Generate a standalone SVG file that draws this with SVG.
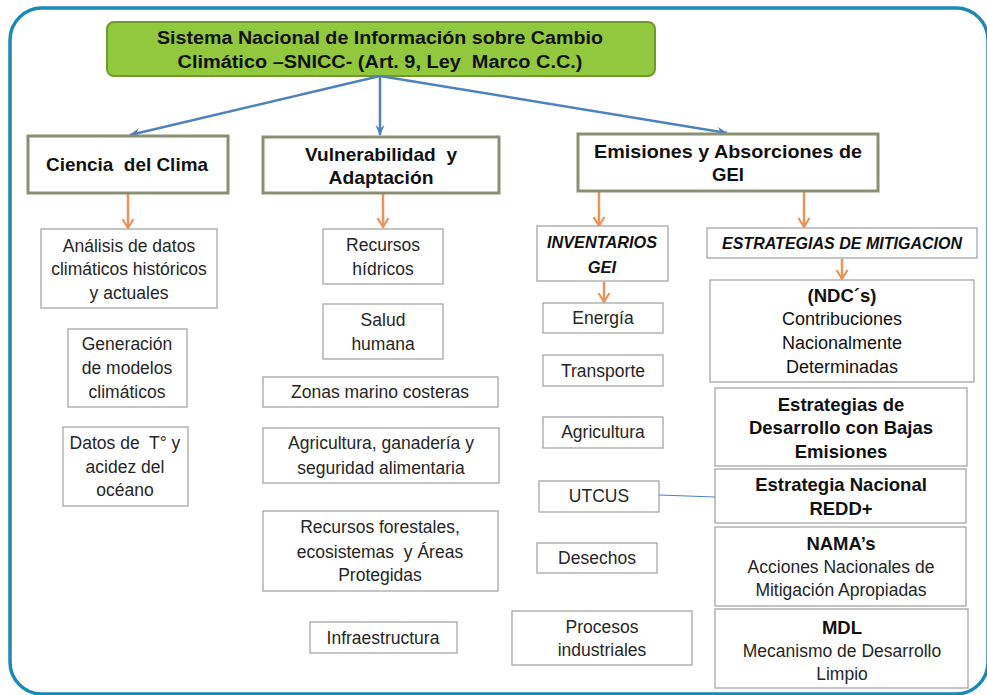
<svg xmlns="http://www.w3.org/2000/svg" width="987" height="695" viewBox="0 0 987 695">
<style>
text{font-family:"Liberation Sans",Arial,sans-serif;fill:#1a1a1a;text-anchor:middle}
.h{font-weight:bold;font-size:17.5px;fill:#111}
.r{font-size:17.5px;fill:#262626}
.a{font-size:18px;fill:#111}
.b{font-weight:bold;font-size:18.5px;fill:#111}
.bi{font-weight:bold;font-style:italic;font-size:16.5px;fill:#111}
.main{fill:#fff;stroke:#8b8f74;stroke-width:3}
.box{fill:#fff;stroke:#a6a6a6;stroke-width:1.3}
.blue{stroke:#4f81bd;stroke-width:2.5;fill:none}
.org{stroke:#e9935a;stroke-width:2.5;fill:none}
</style>
<defs>
<marker id="ab" markerWidth="12" markerHeight="10" refX="10" refY="5" orient="auto" markerUnits="userSpaceOnUse">
<path d="M0,0.5 L11,5 L0,9.5 L3.5,5 z" fill="#4f81bd"/>
</marker>
<marker id="ao" markerWidth="14" markerHeight="14" refX="11" refY="7" orient="auto" markerUnits="userSpaceOnUse">
<path d="M2,1.5 L11,7 L2,12.5" fill="none" stroke="#e9935a" stroke-width="2.2"/>
</marker>
</defs>
<rect x="10" y="8" width="978" height="686" rx="32" fill="#fff" stroke="#1a8ab4" stroke-width="3.5"/>

<g id="header">
<rect x="107" y="22" width="548" height="54" rx="7" fill="#92c83e" stroke="#6f9a2c" stroke-width="2"/>
<text x="380" y="44" class="h" textLength="446" lengthAdjust="spacingAndGlyphs">Sistema Nacional de Información sobre Cambio</text>
<text x="380" y="68" class="h" xml:space="preserve" textLength="405" lengthAdjust="spacingAndGlyphs">Climático –SNICC- (Art. 9, Ley  Marco C.C.)</text>
</g>

<g id="connectors">
<line x1="380" y1="76" x2="130" y2="135" class="blue" marker-end="url(#ab)"/>
<line x1="380" y1="76" x2="380" y2="135" class="blue" marker-end="url(#ab)"/>
<line x1="380" y1="76" x2="727" y2="133" class="blue" marker-end="url(#ab)"/>
<line x1="128" y1="194" x2="128" y2="228" class="org" marker-end="url(#ao)"/>
<line x1="383" y1="194" x2="383" y2="227" class="org" marker-end="url(#ao)"/>
<line x1="599" y1="192" x2="599" y2="226" class="org" marker-end="url(#ao)"/>
<line x1="804" y1="192" x2="804" y2="227" class="org" stroke-width="1.5" marker-end="url(#ao)"/>
<line x1="842" y1="259" x2="842" y2="279" class="org" marker-end="url(#ao)"/>
<line x1="604" y1="282" x2="604" y2="302" class="org" marker-end="url(#ao)"/>
<line x1="659" y1="495" x2="715" y2="497" stroke="#4f81bd" stroke-width="1.2"/>
</g>

<g id="ciencia">
<rect x="28" y="136" width="200" height="57" class="main"/>
<text x="127" y="171" class="b" xml:space="preserve" textLength="162" lengthAdjust="spacingAndGlyphs">Ciencia  del Clima</text>
</g>
<g id="vulnerabilidad">
<rect x="263" y="137" width="236" height="56" class="main"/>
<text x="381" y="161" class="b" xml:space="preserve" textLength="152" lengthAdjust="spacingAndGlyphs">Vulnerabilidad  y</text>
<text x="381" y="184" class="b" textLength="105" lengthAdjust="spacingAndGlyphs">Adaptación</text>
</g>
<g id="emisiones">
<rect x="578" y="134" width="300" height="57" class="main"/>
<text x="728" y="158" class="b" textLength="268" lengthAdjust="spacingAndGlyphs">Emisiones y Absorciones de</text>
<text x="728" y="181" class="b">GEI</text>
</g>

<g id="analisis">
<rect x="41" y="229" width="176" height="79" class="box"/>
<text x="129" y="252" class="r">Análisis de datos</text>
<text x="129" y="275" class="r">climáticos históricos</text>
<text x="129" y="299" class="r">y actuales</text>
</g>
<g id="generacion">
<rect x="68" y="329" width="119" height="78" class="box"/>
<text x="127" y="350" class="r">Generación</text>
<text x="127" y="374" class="r">de modelos</text>
<text x="127" y="398" class="r">climáticos</text>
</g>
<g id="datos">
<rect x="63" y="427" width="125" height="79" class="box"/>
<text x="125" y="449" class="r" xml:space="preserve">Datos de  T° y</text>
<text x="125" y="473" class="r">acidez del</text>
<text x="125" y="496" class="r">océano</text>
</g>

<g id="hidricos">
<rect x="323" y="229" width="120" height="55" class="box"/>
<text x="383" y="251" class="r">Recursos</text>
<text x="383" y="275" class="r">hídricos</text>
</g>
<g id="salud">
<rect x="323" y="304" width="120" height="55" class="box"/>
<text x="383" y="326" class="r">Salud</text>
<text x="383" y="350" class="r">humana</text>
</g>
<g id="zonas">
<rect x="263" y="377" width="235" height="30" class="box"/>
<text x="380" y="398" class="r">Zonas marino costeras</text>
</g>
<g id="agricultura-seg">
<rect x="263" y="428" width="236" height="55" class="box"/>
<text x="381" y="449" class="r">Agricultura, ganadería y</text>
<text x="381" y="474" class="r">seguridad alimentaria</text>
</g>
<g id="forestales">
<rect x="263" y="511" width="235" height="80" class="box"/>
<text x="380" y="533" class="r">Recursos forestales,</text>
<text x="380" y="558" class="r" xml:space="preserve">ecosistemas  y Áreas</text>
<text x="380" y="581" class="r">Protegidas</text>
</g>
<g id="infraestructura">
<rect x="310" y="622" width="147" height="31" class="box"/>
<text x="383" y="644" class="r">Infraestructura</text>
</g>

<g id="inventarios">
<rect x="537" y="226" width="131" height="55" class="box"/>
<text x="602" y="248" class="bi" textLength="110" lengthAdjust="spacingAndGlyphs">INVENTARIOS</text>
<text x="602" y="273" class="bi">GEI</text>
</g>
<g id="energia">
<rect x="543" y="303" width="120" height="30" class="box"/>
<text x="603" y="324" class="r">Energía</text>
</g>
<g id="transporte">
<rect x="543" y="355" width="120" height="31" class="box"/>
<text x="603" y="377" class="r">Transporte</text>
</g>
<g id="agricultura">
<rect x="543" y="417" width="120" height="31" class="box"/>
<text x="603" y="438" class="r">Agricultura</text>
</g>
<g id="utcus">
<rect x="539" y="481" width="120" height="31" class="box"/>
<text x="599" y="502" class="r">UTCUS</text>
</g>
<g id="desechos">
<rect x="537" y="543" width="120" height="30" class="box"/>
<text x="597" y="564" class="r">Desechos</text>
</g>
<g id="procesos">
<rect x="512" y="611" width="180" height="54" class="box"/>
<text x="602" y="633" class="r">Procesos</text>
<text x="602" y="656" class="r">industriales</text>
</g>

<g id="estrategias-mitigacion">
<rect x="707" y="228" width="270" height="30" class="box"/>
<text x="842" y="249" class="bi" textLength="240" lengthAdjust="spacingAndGlyphs">ESTRATEGIAS DE MITIGACION</text>
</g>
<g id="ndc">
<rect x="710" y="280" width="264" height="102" class="box"/>
<text x="842" y="302" class="b">(NDC´s)</text>
<text x="842" y="325" class="a">Contribuciones</text>
<text x="842" y="349" class="a">Nacionalmente</text>
<text x="842" y="373" class="a">Determinadas</text>
</g>
<g id="desarrollo-bajas">
<rect x="715" y="388" width="252" height="78" class="box"/>
<text x="841" y="411" class="b">Estrategias de</text>
<text x="841" y="434" class="b">Desarrollo con Bajas</text>
<text x="841" y="458" class="b">Emisiones</text>
</g>
<g id="redd">
<rect x="715" y="469" width="251" height="54" class="box"/>
<text x="841" y="491" class="b">Estrategia Nacional</text>
<text x="841" y="515" class="b">REDD+</text>
</g>
<g id="nama">
<rect x="715" y="527" width="251" height="79" class="box"/>
<text x="841" y="550" class="b">NAMA’s</text>
<text x="841" y="573" class="r">Acciones Nacionales de</text>
<text x="841" y="596" class="r">Mitigación Apropiadas</text>
</g>
<g id="mdl">
<rect x="715" y="609" width="253" height="79" class="box"/>
<text x="842" y="634" class="b">MDL</text>
<text x="842" y="657" class="r">Mecanismo de Desarrollo</text>
<text x="842" y="680" class="r">Limpio</text>
</g>
</svg>
